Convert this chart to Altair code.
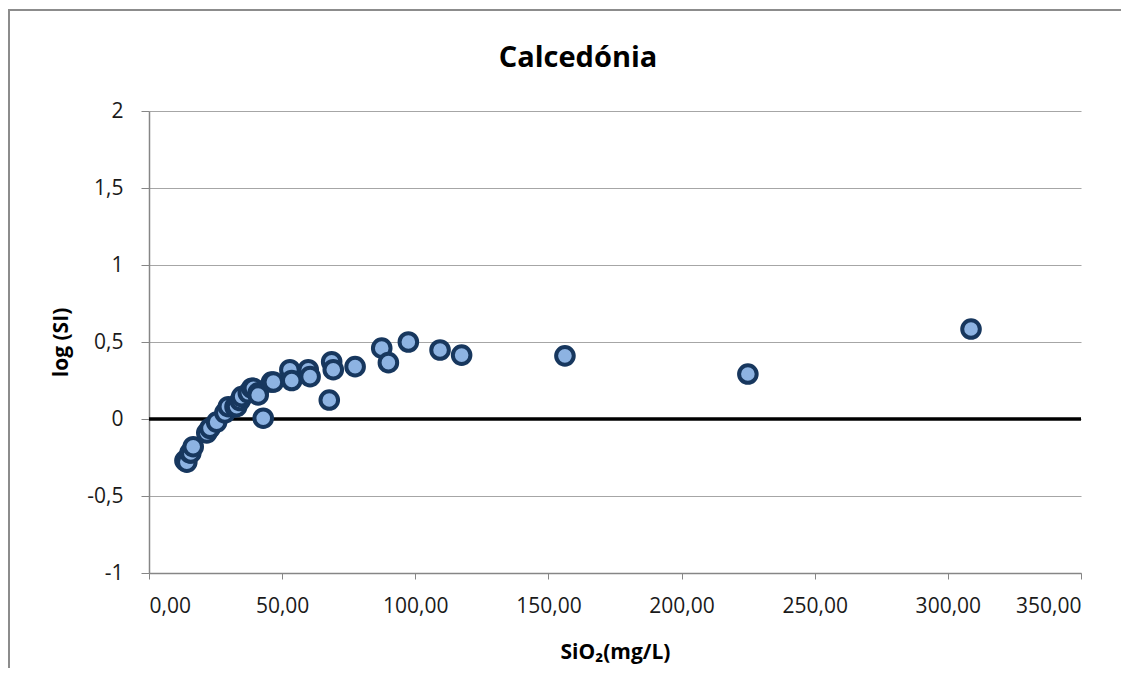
import altair as alt
import pandas as pd

sio2 = [13.5, 14.2, 15.4, 15.7, 16.6, 21.7, 22.9, 25.4, 28.5, 29.8, 32.3, 32.9,
        34.2, 34.8, 37.3, 38.6, 39.2, 41.0, 41.0, 42.9, 46.0, 46.7, 52.9, 53.6,
        59.8, 60.5, 67.7, 68.6, 69.2, 77.4, 87.4, 89.9, 97.4, 109.3, 117.4,
        156.2, 224.9, 308.7]
logsi = [-0.27, -0.28, -0.22, -0.22, -0.18, -0.09, -0.06, -0.02, 0.04, 0.08, 0.08, 0.08,
         0.12, 0.145, 0.17, 0.20, 0.20, 0.17, 0.156, 0.005, 0.24, 0.24, 0.32, 0.25,
         0.32, 0.275, 0.123, 0.372, 0.32, 0.34, 0.46, 0.366, 0.50, 0.448, 0.415,
         0.41, 0.292, 0.584]

x_ticks = [0, 50, 100, 150, 200, 250, 300, 350]
y_ticks = [-1, -0.5, 0, 0.5, 1, 1.5, 2]
title_text = ["Calcedónia"]

df = pd.DataFrame({"SiO2": sio2, "logSI": logsi})

FONT = "Open Sans"
ydom = alt.Scale(domain=[-1, 2], nice=False, zero=False)

x_enc = alt.X("SiO2:Q",
              scale=alt.Scale(domain=[0, 350], nice=False, zero=False),
              axis=alt.Axis(values=x_ticks, title="SiO₂(mg/L)",
                            labelExpr="replace(format(datum.value, '.2f'), '.', ',')",
                            grid=False, tickSize=6, tickColor="#868686",
                            domainColor="#868686", domainWidth=1.5,
                            labelFontSize=21, labelColor="#1a1a1a", labelPadding=16,
                            titleFontSize=21, titleFontWeight="bold",
                            titleColor="#000000", titleX=466, titleY=85,
                            titleBaseline="alphabetic",
                            labelFont=FONT, titleFont=FONT))
y_enc = alt.Y("logSI:Q", scale=ydom,
              axis=alt.Axis(values=y_ticks, title="log (SI)",
                            labelExpr="replace(toString(datum.value), '.', ',')",
                            grid=True, gridColor="#a6a6a6", gridWidth=1.2,
                            tickSize=8, tickColor="#868686",
                            domainColor="#868686", domainWidth=1.5,
                            labelFontSize=21, labelColor="#1a1a1a", labelPadding=18,
                            titleFontSize=21, titleFontWeight="bold",
                            titleColor="#000000", titleX=-82, titleY=231,
                            titleBaseline="alphabetic",
                            labelFont=FONT, titleFont=FONT))

frame_df = pd.DataFrame({"f": [0]})
frame_left = alt.Chart(frame_df).mark_rule(
    color="#8c8c8c", strokeWidth=2, clip=False).encode(
    x=alt.value(-140), y=alt.value(-101), y2=alt.value(560)
)
frame_top = alt.Chart(frame_df).mark_rule(
    color="#8c8c8c", strokeWidth=2, clip=False).encode(
    x=alt.value(-141), x2=alt.value(972), y=alt.value(-101)
)

title = alt.Chart(pd.DataFrame({"t": title_text})).mark_text(
    font=FONT, fontSize=29, fontWeight="bold", color="#000000",
    align="center", baseline="alphabetic").encode(
    text="t:N", x=alt.value(429), y=alt.value(-44)
)

zero = alt.Chart(pd.DataFrame({"z": [0]})).mark_rule(color="#000000", strokeWidth=3.5).encode(
    y=alt.Y("z:Q", scale=ydom)
)

pts = alt.Chart(df).mark_point(shape="circle", filled=True, fill="#8db3e2",
                               stroke="#17375e", strokeWidth=4, size=310,
                               opacity=1).encode(x=x_enc, y=y_enc)

chart = alt.layer(frame_left, frame_top, title, zero, pts).properties(
    width=932, height=462,
    autosize=alt.AutoSizeParams(type="none"),
    padding={"left": 141, "top": 103, "right": 40, "bottom": 95},
).configure_view(stroke=None)

chart.save("out.html", embed_options={"renderer": "svg", "actions": False})
